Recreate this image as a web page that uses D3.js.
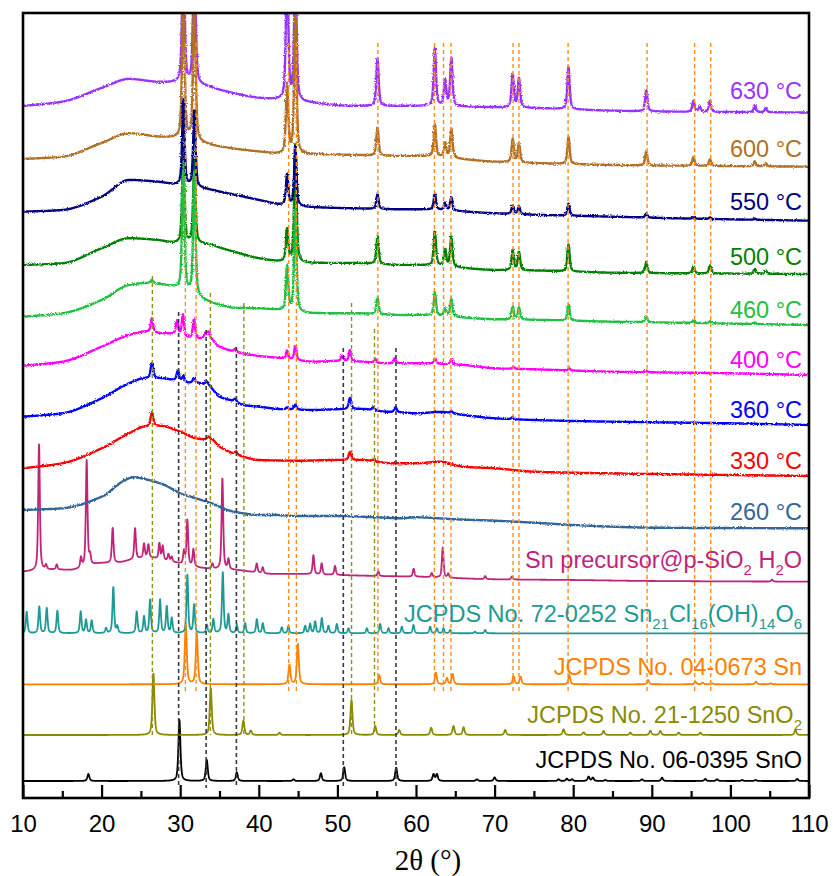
<!DOCTYPE html>
<html>
<head>
<meta charset="utf-8">
<script src="https://cdn.jsdelivr.net/npm/d3@7"></script>
<style>
  body { margin: 0; background: #fff; }
  svg { display: block; }
</style>
</head>
<body>
<svg id="chart" width="835" height="876"></svg>
<script>
// ---------- axis ----------
const twoThetaRange = [10, 110];
const majorTicks = [10, 20, 30, 40, 50, 60, 70, 80, 90, 100, 110];
const minorTicks = [15, 25, 35, 45, 55, 65, 75, 85, 95, 105];

// ---------- measured patterns: background knots [2θ, a.u.] and peaks [2θ, height a.u.] ----------
const bg630 = [[10,6.5],[15,10.8],[20,24.5],[23.5,33.5],[27,30.5],[29.5,29.5],[33,26.5],[35,22.5],[40,14.5],[43,12.5],[47,9.5],[52,6.5],[58,6.5],[60,6.5],[70,5.2],[76,4.2],[85,1.8],[93,0.8],[110,0]];
const pk630 = [[30.4,150],[31.8,150],[43.6,140],[44.65,140],[55.1,48],[62.4,57],[63.7,26],[64.5,48],[72.3,33],[73.1,29],[79.4,42],[89.3,21],[95.3,11],[96.1,5],[97.4,11],[103.1,7],[104.5,4]];

const bg600 = [[10,7.7],[15,10],[20,23.7],[23.5,33.4],[27,30],[29.5,28.4],[33,23],[35,20],[40,15],[43,12.7],[47,12.5],[52,11.7],[58,10.7],[60,10.7],[70,5],[76,3.4],[85,1.7],[93,1],[110,0]];
const pk600 = [[30.4,160],[31.8,160],[43.6,69],[44.65,140],[55.1,28],[62.4,32],[63.7,14],[64.5,29],[72.3,23],[73.1,19],[79.4,27],[89.3,13.5],[95.3,9],[97.4,6.5],[103.1,5],[104.5,3]];

const bg550 = [[10,9],[15,10.7],[20,24],[23.5,40.7],[27,39],[29.5,35.7],[33,32],[35,29],[40,20.7],[43,15.7],[47,13.4],[52,12.4],[58,11.4],[60,11.4],[70,7.4],[76,5.7],[85,4],[93,2.4],[110,0]];
const pk550 = [[30.4,86],[31.8,76],[43.6,31],[44.65,60],[55.1,14.5],[62.4,16],[63.7,7],[64.5,13],[72.3,8.5],[73.1,7.5],[79.4,12],[89.3,4],[95.3,1.5],[97.4,1.5],[103.1,1]];

const bg500 = [[10,9],[15,10.7],[20,25.7],[23.5,35.7],[27,34],[29.5,30.7],[33,30],[36,24],[40,15.7],[43,12.3],[47,11],[52,11],[58,9],[60,9],[70,4],[76,3.3],[85,1.3],[93,0.7],[110,0]];
const pk500 = [[30.4,96],[31.8,83],[43.6,32],[44.65,118],[55.1,28],[62.4,34],[63.7,17],[64.5,30],[72.3,20],[73.1,18],[79.4,27],[89.3,11],[95.3,7],[97.4,8],[103.1,5],[104.5,3]];

const bg460 = [[10,8.3],[15,11.7],[20,25],[23.5,40],[26,42],[28,40],[29.5,37],[33,25],[35,20],[37,17],[40,16.5],[43,14.5],[47,11.7],[52,11.7],[58,10],[60,10],[70,5.7],[76,5],[85,3.3],[93,2.3],[110,0]];
const pk460 = [[26.4,3],[30.4,128],[31.8,123],[43.6,44],[44.65,104],[55.1,17],[62.4,23],[63.7,8],[64.5,18],[72.3,13],[73.1,12],[79.4,16],[89.3,6],[95.3,2.5],[97.4,2],[103.1,1.5]];

const bg400 = [[10,9.3],[15,13.3],[20,28.3],[23.5,40],[25.5,43.3],[27.5,41.7],[29,41],[31,37],[32.5,36],[33.5,38],[35,28.3],[37,23.3],[40,19],[43,16.7],[47,13.3],[50,14],[53,13.3],[56,11.7],[58.5,11.7],[60,11.7],[66,10],[70,6.7],[75,5.7],[85,3.3],[100,1.7],[110,0]];
const pk400 = [[26.4,14],[29.6,14],[30.35,22],[31.75,19],[33.2,4],[33.6,5],[37.0,3],[43.6,8],[44.65,14],[50.6,5],[51.6,11],[54.8,4],[57.3,5],[62.4,5],[64.5,5],[72.4,2],[79.5,2],[89.3,1.5]];

const bg360 = [[10,8.3],[15,11.7],[20,26.7],[23.5,41.7],[25.5,46.7],[27.5,46.7],[29,45],[31,42],[32.5,41.7],[33.5,40],[35,28.3],[37,23.3],[38,20],[40,18.3],[43,15.7],[47,15],[50,15.7],[53,16],[56,13.3],[58.5,12.3],[60,11.7],[63,13],[66,10],[70,6.7],[75,5],[85,3.3],[100,1.7],[110,0]];
const pk360 = [[26.4,15],[29.7,10],[30.4,6],[31.75,5],[33.4,3],[37.0,3],[43.6,2],[44.65,5],[51.6,11],[54.6,3],[57.4,5],[64.5,2],[72.3,2]];

const bg330 = [[10,7.7],[15,12.7],[20,27.7],[23.5,42.7],[25.5,49.3],[27.5,50],[30,44.3],[32,37.7],[33,36.7],[34,36.5],[35,29.3],[38,19.3],[40,16],[45,15.3],[50,16],[53,16],[57,12.7],[60,12.7],[63,14.3],[66,9.3],[70,7.7],[75,4.3],[80,3.3],[90,2],[100,1],[110,0]];
const pk330 = [[26.4,14],[33.6,3],[37.1,3],[51.6,8],[54.6,1.5]];

const bg260 = [[10,18.3],[15,20],[20,31.6],[23,48.3],[24,51],[26,48.3],[28,43.3],[30,35],[32,30],[34,25],[36,18.3],[38,15],[40,13.3],[42,13.3],[45,12.3],[50,12.3],[55,11],[58,10],[60,11],[65,9],[70,7.6],[75,5.6],[80,3.3],[85,1.6],[90,0.6],[110,0]];
const pk260 = [];

const bgPrecursor = [[10,10],[14,12],[16,11.7],[20,18.4],[22,19],[24,22],[26,24],[28,21],[30,18],[33,13.4],[37,11.7],[42,7.7],[45,7.7],[50,6.7],[55,5.7],[60,5],[70,2.4],[80,1.7],[90,0.7],[110,0]];
const pkPrecursor = [[12.04,126],[12.93,4.5],[14.29,5],[17.38,10],[18.1,106],[18.53,9],[21.41,35],[24.26,31],[25.4,14],[25.95,13],[27.35,16],[27.78,14],[28.5,7],[28.92,5],[30.49,13],[30.91,45],[31.68,17],[34.1,5],[35.37,91],[36.14,10],[39.74,9],[40.5,6],[46.95,19],[48.0,11],[49.7,9],[55.2,5],[59.7,8],[62.0,4],[63.4,30],[64.1,4],[68.8,3],[72.2,3],[105.3,2]];

// ---------- reference cards: peaks [2θ, height a.u.] ----------
const pkCard720252 = [[10.47,21.6],[12.07,26.6],[13.02,25],[14.37,22.6],[17.34,21.6],[18.02,13.3],[18.74,12.6],[20.57,5],[21.49,46],[22.0,6.6],[24.47,21.6],[25.4,16.6],[26.17,33.3],[27.44,33.3],[28.29,26.6],[28.93,15],[30.91,58.3],[31.77,28.3],[33.38,8.3],[34.22,14],[35.42,60.6],[36.13,18.3],[37.2,8.3],[38.26,10],[39.75,14],[40.51,10],[42.93,6],[43.77,7.3],[45.9,7.3],[46.53,9.3],[47.17,11.6],[48.02,15],[48.86,7.3],[49.93,9.3],[51.41,5],[53.75,5],[55.44,9.3],[56.5,5],[58.2,6.6],[59.68,8.3],[61.8,6.6],[62.66,5],[63.5,5],[64.35,3.3],[67.5,1.6],[68.8,3.3]];
const pkCard040673 = [[30.71,60.3],[32.11,51],[43.9,19.3],[44.97,40.3],[55.32,9.3],[62.53,11.6],[63.93,6],[64.65,10.3],[72.41,8.3],[73.3,7.6],[79.5,9.3],[89.52,4.3],[95.54,2.6],[96.47,1.6],[97.66,1],[103.26,2.6],[105.1,1]];
const pkCard211250 = [[26.59,61.7],[33.89,46.7],[38.04,14.3],[38.98,4.3],[42.63,2.3],[51.79,35],[54.81,9],[57.86,5],[61.93,7.3],[64.77,9],[66.05,7.7],[71.35,5],[78.78,5.7],[81.32,2.7],[83.87,4],[87.27,2.3],[89.81,4.3],[91.08,4],[93.42,2.3],[96.18,2.3],[108.27,5]];
const pkCard060395 = [[18.32,7],[29.9,61],[33.38,21],[37.2,8.7],[44.41,1.7],[47.9,7.7],[50.86,13.7],[57.48,13.3],[62.23,6.7],[62.66,6.7],[67.75,1.7],[70.0,3.7],[78.14,1.7],[79.2,2.3],[79.84,1.7],[81.96,4.3],[82.5,3.3],[84.08,1],[88.75,1.7],[91.3,3.3],[96.8,2],[98.3,1.7],[101.5,1],[103.2,1],[108.5,2]];
const flat = [[10,0],[110,0]];

// ---------- stacking offsets (a.u.), top to bottom ----------
const seriesNames = ["630 °C","600 °C","550 °C","500 °C","460 °C","400 °C","360 °C","330 °C","260 °C",
  "Sn precursor@p-SiO2 H2O","JCPDS No. 72-0252 Sn21Cl16(OH)14O6","JCPDS No. 04-0673 Sn","JCPDS No. 21-1250 SnO2","JCPDS No. 06-0395 SnO"];
const seriesOffsets = [685.5, 631.3, 577.3, 524, 473, 423, 373, 322, 269.7, 216.3, 164.7, 113.7, 63, 17];

// ---------- guide lines [2θ, top a.u., bottom a.u.] ----------
const guidesSn   = [[30.66,755,107],[32.02,755,107],[43.8,755,107],[44.78,755,107],[55.15,755,107],[62.35,755,107],[63.5,755,107],[64.45,755,107],[72.35,755,107],[73.1,755,107],[79.35,755,107],[89.4,755,107],[95.45,755,107],[97.5,755,107]];
const guidesSnO2 = [[26.46,522,63],[33.84,505,63],[38.1,495,63],[51.8,495,63],[54.72,469,63]];
const guidesSnO  = [[29.8,486,10],[33.3,468,10],[37.15,451,10],[50.75,450,10],[57.45,450,10]];

// ---------- styling ----------
const colors = ["#9933ff","#b07028","#000080","#008000","#22c043","#ff00ff","#0000ff","#ff0000","#336699",
  "#c0247a","#1c9a96","#ff8000","#8a8a00","#000000"];
const labelLift = [13.5, 9.7, 10.7, 9, 7, 7, 7, 7, 8.3, 13.7, 11.3, 9.3, 12, 13];
const bgs   = [bg630,bg600,bg550,bg500,bg460,bg400,bg360,bg330,bg260,bgPrecursor,flat,flat,flat,flat];
const peaks = [pk630,pk600,pk550,pk500,pk460,pk400,pk360,pk330,pk260,pkPrecursor,pkCard720252,pkCard040673,pkCard211250,pkCard060395];
const fwhms = [0.35,0.35,0.35,0.35,0.35,0.35,0.4,0.4,0.4,0.25,0.25,0.3,0.3,0.3];
const strokeW = [2.4,2.4,2.4,2.4,2.4,2.4,2.4,2.4,2.4,1.8,1.8,1.8,1.8,1.8];
const measured = [true,true,true,true,true,true,true,true,true,false,false,false,false,false];
const drawOrder = [13,12,11,10,9,8,7,6,5,3,4,0,1,2];

// ---------- layout ----------
const W = 835, H = 876;
const plot = { left: 23, right: 809, top: 13, bottom: 798 };
const x = d3.scaleLinear().domain(twoThetaRange).range([plot.left, plot.right]);
const y = d3.scaleLinear().domain([0, 785]).range([plot.bottom, plot.top]);

const svg = d3.select("#chart");
const defs = svg.append("defs");
defs.append("clipPath").attr("id", "plotClip")
  .append("rect").attr("x", plot.left).attr("y", plot.top)
  .attr("width", plot.right - plot.left).attr("height", plot.bottom - plot.top);

// detector-count jitter look for the measured scans
const rough = defs.append("filter").attr("id", "rough")
  .attr("x", "-2%").attr("y", "-10%").attr("width", "104%").attr("height", "120%");
rough.append("feTurbulence").attr("type", "fractalNoise").attr("baseFrequency", "0.9 0.9")
  .attr("numOctaves", 1).attr("seed", 3).attr("result", "noise");
rough.append("feDisplacementMap").attr("in", "SourceGraphic").attr("in2", "noise")
  .attr("scale", 3.2).attr("xChannelSelector", "R").attr("yChannelSelector", "G");

// monotone cubic background through knots
function monotone(knots) {
  const n = knots.length, xs = knots.map(d => d[0]), ys = knots.map(d => d[1]);
  const dx = [], m = [];
  for (let i = 0; i < n - 1; i++) { dx[i] = xs[i+1] - xs[i]; m[i] = (ys[i+1] - ys[i]) / dx[i]; }
  const t = new Array(n);
  t[0] = m[0]; t[n-1] = m[n-2];
  for (let i = 1; i < n - 1; i++) {
    if (m[i-1] * m[i] <= 0) t[i] = 0;
    else t[i] = 3 * (dx[i-1] + dx[i]) / ((2*dx[i] + dx[i-1]) / m[i-1] + (dx[i] + 2*dx[i-1]) / m[i]);
  }
  return v => {
    let i = Math.min(Math.max(d3.bisectRight(xs, v) - 1, 0), n - 2);
    const h = dx[i], s = (v - xs[i]) / h, s2 = s*s, s3 = s2*s;
    return (2*s3 - 3*s2 + 1) * ys[i] + (s3 - 2*s2 + s) * h * t[i] + (-2*s3 + 3*s2) * ys[i+1] + (s3 - s2) * h * t[i+1];
  };
}

// pseudo-Voigt line shape with unit height
function shape(d, w) {
  const u = (2 * d / w);
  return 0.6 / (1 + u*u) + 0.4 * Math.exp(-Math.LN2 * u*u);
}

const grid = d3.range(twoThetaRange[0], twoThetaRange[1] + 1e-9, 0.02);
function profile(bgKnots, pk, w, offset) {
  const bg = monotone(bgKnots);
  return grid.map(t => {
    let v = bg(t);
    for (const [p, h] of pk) {
      const d = t - p;
      if (Math.abs(d) < 12) v += h * shape(d, w);
    }
    return [t, v + offset];
  });
}

const line = d3.line().x(d => x(d[0])).y(d => y(d[1]));

const curves = svg.append("g").attr("clip-path", "url(#plotClip)");
drawOrder.forEach(i => {
  curves.append("g").attr("filter", measured[i] ? "url(#rough)" : null)
    .append("path")
    .attr("d", line(profile(bgs[i], peaks[i], fwhms[i], seriesOffsets[i])))
    .attr("fill", "none")
    .attr("stroke", colors[i])
    .attr("stroke-width", strokeW[i])
    .attr("stroke-linejoin", "round");
});

// dashed guide lines
const guides = svg.append("g").attr("clip-path", "url(#plotClip)");
[[guidesSn, "#ff8c1a", 1.4], [guidesSnO2, "#8f8f14", 1.4], [guidesSnO, "#3a3a3a", 1.6]].forEach(([set, c, sw]) => {
  guides.selectAll(null).data(set).enter().append("line")
    .attr("x1", d => x(d[0])).attr("x2", d => x(d[0]))
    .attr("y1", d => y(d[1])).attr("y2", d => y(d[2]))
    .attr("stroke", c).attr("stroke-width", sw).attr("stroke-dasharray", "4,3");
});

// series labels
const labelFont = "Arial, 'Liberation Sans', sans-serif";
const subscriptParts = {
  9:  [["Sn precursor@p-SiO"], ["2", 1], [" H"], ["2", 1], ["O"]],
  10: [["JCPDS No. 72-0252 Sn"], ["21", 1], ["Cl"], ["16", 1], ["(OH)"], ["14", 1], ["O"], ["6", 1]],
  12: [["JCPDS No. 21-1250 SnO"], ["2", 1]]
};
seriesNames.forEach((name, i) => {
  const tx = svg.append("text")
    .attr("x", 802)
    .attr("y", y(seriesOffsets[i]) - labelLift[i])
    .attr("text-anchor", "end")
    .attr("font-family", labelFont)
    .attr("font-size", 23.5)
    .attr("fill", colors[i]);
  const parts = subscriptParts[i];
  if (!parts) { tx.text(name); return; }
  let down = false;
  parts.forEach(([s, sub]) => {
    const ts = tx.append("tspan").text(s);
    if (sub && !down) { ts.attr("dy", 7).attr("font-size", 15); down = true; }
    else if (sub) { ts.attr("font-size", 15); }
    else if (down) { ts.attr("dy", -7); down = false; }
  });
});

// frame
svg.append("rect")
  .attr("x", plot.left).attr("y", plot.top)
  .attr("width", plot.right - plot.left).attr("height", plot.bottom - plot.top)
  .attr("fill", "none").attr("stroke", "#000").attr("stroke-width", 2.6);

// bottom axis with inward ticks
const axisMajor = d3.axisBottom(x).tickValues(majorTicks).tickSize(-13).tickPadding(17).tickFormat(d3.format("d"));
const gMajor = svg.append("g").attr("transform", `translate(0,${plot.bottom})`).call(axisMajor);
gMajor.select(".domain").remove();
gMajor.selectAll(".tick line").attr("stroke-width", 2.2);
gMajor.selectAll(".tick text").attr("font-family", labelFont).attr("font-size", 24).attr("fill", "#000");

const axisMinor = d3.axisBottom(x).tickValues(minorTicks).tickSize(-7).tickFormat("");
const gMinor = svg.append("g").attr("transform", `translate(0,${plot.bottom})`).call(axisMinor);
gMinor.select(".domain").remove();
gMinor.selectAll(".tick line").attr("stroke-width", 2.2);

// axis title
svg.append("text")
  .attr("x", 428).attr("y", 870)
  .attr("text-anchor", "middle")
  .attr("font-family", "'Times New Roman', 'Liberation Serif', serif")
  .attr("font-size", 29)
  .text("2θ (°)");
</script>
</body>
</html>
